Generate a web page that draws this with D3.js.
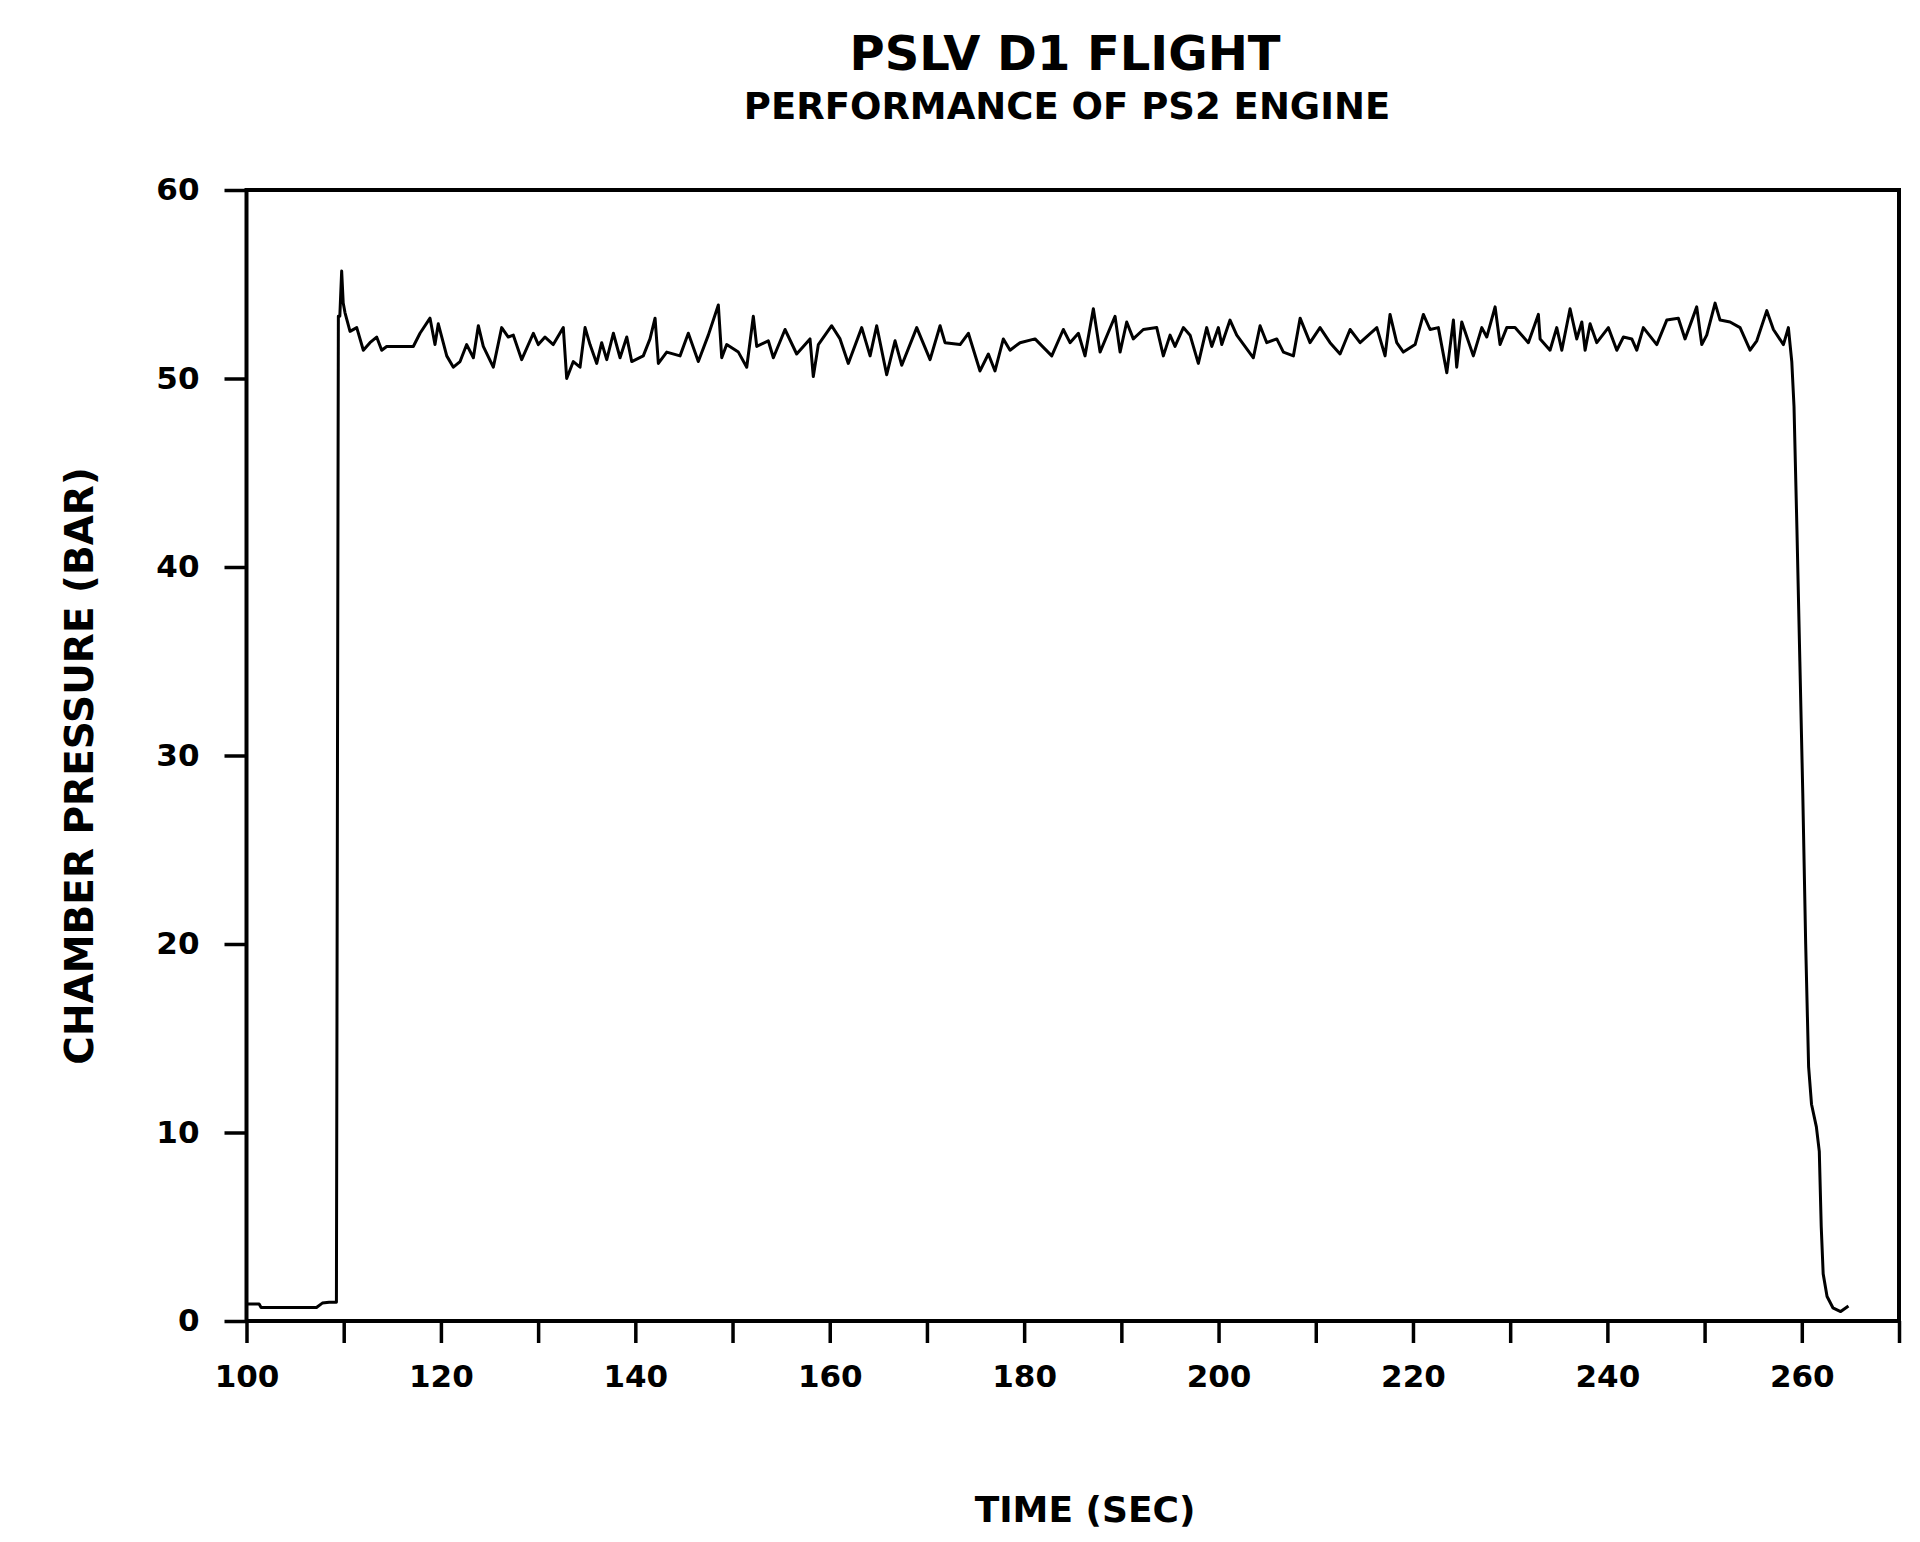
<!DOCTYPE html>
<html>
<head>
<meta charset="utf-8">
<title>PSLV D1 Flight - PS2 Engine</title>
<script src="https://cdn.jsdelivr.net/npm/d3@7"></script>
<style>
  body { margin: 0; background: #ffffff; }
  text { font-family: "DejaVu Sans", sans-serif; font-weight: bold; fill: #000; }
</style>
</head>
<body>
<div id="chart-area"></div>
<script>
// chart text
const TITLE = "PSLV D1 FLIGHT";
const SUBTITLE = "PERFORMANCE OF PS2 ENGINE";
const X_TITLE = "TIME (SEC)";
const Y_TITLE = "CHAMBER PRESSURE (BAR)";

// axes
const xDomain = [100, 270];
const yDomain = [0, 60];
const xTickValues = [100, 110, 120, 130, 140, 150, 160, 170, 180, 190, 200, 210, 220, 230, 240, 250, 260, 270];
const xLabelValues = [100, 120, 140, 160, 180, 200, 220, 240, 260];
const yTickValues = [0, 10, 20, 30, 40, 50, 60];

// trace (sec, bar)
const timeSec = [
  100.0, 101.3, 101.5, 107.2, 107.8, 108.5, 109.25, 109.45, 109.6, 109.79,
  109.95, 110.13, 110.65, 111.34, 112.02, 112.7, 113.39, 113.91, 114.42, 117.16,
  117.85, 118.88, 119.39, 119.73, 120.6, 121.28, 121.97, 122.65, 123.34, 123.85,
  124.36, 125.39, 126.25, 126.93, 127.45, 128.31, 129.51, 130.02, 130.71, 131.56,
  132.59, 132.94, 133.62, 134.31, 134.83, 135.34, 136.03, 136.54, 137.06, 137.74,
  138.43, 139.12, 139.63, 140.82, 141.51, 142.03, 142.37, 143.23, 144.6, 145.45,
  146.48, 147.51, 148.54, 148.89, 149.4, 150.6, 151.46, 152.14, 152.49, 153.68,
  154.2, 155.4, 156.6, 157.97, 158.31, 158.83, 160.2, 161.06, 161.91, 163.29,
  164.15, 164.83, 165.86, 166.72, 167.41, 168.95, 170.32, 171.35, 171.86, 173.41,
  174.26, 175.46, 176.32, 177.0, 177.86, 178.55, 179.58, 181.12, 182.84, 184.03,
  184.72, 185.58, 186.26, 187.12, 187.81, 189.35, 189.87, 190.55, 191.23, 192.26,
  193.64, 194.32, 195.01, 195.52, 196.38, 197.07, 197.92, 198.78, 199.3, 199.98,
  200.33, 201.18, 201.87, 203.58, 204.27, 204.96, 205.99, 206.67, 207.7, 208.39,
  209.41, 210.44, 211.47, 212.5, 213.53, 214.56, 216.28, 217.13, 217.64, 218.33,
  219.01, 220.22, 221.07, 221.76, 222.61, 223.48, 224.16, 224.5, 225.02, 226.21,
  227.08, 227.59, 228.45, 228.96, 229.65, 230.5, 231.87, 232.9, 233.08, 234.1,
  234.79, 235.31, 236.16, 236.85, 237.37, 237.71, 238.22, 238.91, 240.1, 240.97,
  241.65, 242.51, 243.02, 243.7, 245.08, 246.11, 247.3, 247.99, 249.19, 249.71,
  250.22, 251.08, 251.59, 252.62, 253.65, 254.68, 255.37, 256.4, 257.08, 258.11,
  258.62, 258.97, 259.2, 259.5, 259.8, 260.1, 260.4, 260.7, 261.0, 261.5,
  261.8, 262.0, 262.2, 262.6, 263.2, 264.0, 264.8
];
const chamberPressure = [
  0.9, 0.9, 0.72, 0.72, 0.95, 1.0, 1.0, 53.3, 53.3, 55.7,
  54.0, 53.5, 52.5, 52.7, 51.5, 51.9, 52.2, 51.5, 51.7, 51.7,
  52.4, 53.2, 51.8, 52.9, 51.2, 50.6, 50.9, 51.8, 51.1, 52.8,
  51.7, 50.6, 52.7, 52.2, 52.3, 51.0, 52.4, 51.8, 52.2, 51.8,
  52.7, 50.0, 50.9, 50.6, 52.7, 51.8, 50.8, 51.9, 51.0, 52.4,
  51.1, 52.2, 50.9, 51.2, 52.1, 53.2, 50.8, 51.4, 51.2, 52.4,
  50.9, 52.3, 53.9, 51.1, 51.8, 51.4, 50.6, 53.3, 51.7, 52.0,
  51.1, 52.6, 51.3, 52.1, 50.1, 51.8, 52.8, 52.1, 50.8, 52.7,
  51.2, 52.8, 50.2, 52.0, 50.7, 52.7, 51.0, 52.8, 51.9, 51.8,
  52.4, 50.4, 51.3, 50.4, 52.1, 51.5, 51.9, 52.1, 51.2, 52.6,
  51.9, 52.4, 51.2, 53.7, 51.4, 53.3, 51.4, 53.0, 52.1, 52.6,
  52.7, 51.2, 52.3, 51.7, 52.7, 52.3, 50.8, 52.7, 51.7, 52.7,
  51.8, 53.1, 52.3, 51.1, 52.8, 51.9, 52.1, 51.4, 51.2, 53.2,
  51.9, 52.7, 51.9, 51.3, 52.6, 51.9, 52.7, 51.2, 53.4, 51.9,
  51.4, 51.8, 53.4, 52.6, 52.7, 50.3, 53.1, 50.6, 53.0, 51.2,
  52.7, 52.2, 53.8, 51.8, 52.7, 52.7, 51.9, 53.4, 52.1, 51.5,
  52.7, 51.5, 53.7, 52.1, 53.0, 51.5, 52.9, 51.9, 52.7, 51.5,
  52.2, 52.1, 51.5, 52.7, 51.8, 53.1, 53.2, 52.1, 53.8, 51.8,
  52.3, 54.0, 53.1, 53.0, 52.7, 51.5, 52.0, 53.6, 52.6, 51.8,
  52.7, 50.9, 48.5, 42.0, 35.0, 28.0, 20.0, 13.5, 11.5, 10.3,
  9.0, 5.0, 2.5, 1.3, 0.7, 0.5, 0.8
];

const MARGIN = { LEFT: 246.5, RIGHT: 21, TOP: 190, BOTTOM: 221 };
const WIDTH = 1920 - MARGIN.LEFT - MARGIN.RIGHT;
const HEIGHT = 1542 - MARGIN.TOP - MARGIN.BOTTOM;
const FONTSIZE = { title: "48px", subtitle: "37px", "axis-title": "36px", "y-title": "39px", "x-tick": "31px", "y-tick": "31px" };

class PressureChart {
  constructor(_chartLocation) {
    this.chartLocation = _chartLocation;
    this.initVis();
  }

  initVis() {
    const vis = this;

    vis.svg = d3
      .select(vis.chartLocation)
      .append("svg")
      .attr("width", 1920)
      .attr("height", 1542)
      .style("display", "block")
      .style("background", "#fff");

    // titles
    vis.svg.append("text")
      .attr("x", 1065).attr("y", 70)
      .attr("text-anchor", "middle")
      .style("font-size", FONTSIZE.title)
      .text(TITLE);

    vis.svg.append("text")
      .attr("x", 1067).attr("y", 119)
      .attr("text-anchor", "middle")
      .style("font-size", FONTSIZE.subtitle)
      .text(SUBTITLE);

    vis.g = vis.svg.append("g")
      .attr("transform", `translate(${MARGIN.LEFT}, ${MARGIN.TOP})`);

    vis.x = d3.scaleLinear().domain(xDomain).range([0, WIDTH]);
    vis.y = d3.scaleLinear().domain(yDomain).range([HEIGHT, 0]);

    // X label
    vis.g.append("text")
      .attr("x", 1085 - MARGIN.LEFT)
      .attr("y", 1522 - MARGIN.TOP)
      .attr("text-anchor", "middle")
      .style("font-size", FONTSIZE["axis-title"])
      .text(X_TITLE);

    // Y label
    vis.g.append("text")
      .attr("transform", `translate(${79 - MARGIN.LEFT}, ${766 - MARGIN.TOP}) rotate(-90)`)
      .attr("dy", "0.36em")
      .attr("text-anchor", "middle")
      .style("font-size", FONTSIZE["y-title"])
      .text(Y_TITLE);

    vis.line = d3.line()
      .curve(d3.curveLinear)
      .x((d) => vis.x(d.time))
      .y((d) => vis.y(d.pressure));

    vis.wrangleData();
  }

  wrangleData() {
    const vis = this;
    vis.data = timeSec.map((t, i) => ({ time: t, pressure: chamberPressure[i] }));
    vis.updateVis();
  }

  updateVis() {
    const vis = this;

    const xAxisCall = d3.axisBottom(vis.x)
      .tickValues(xTickValues)
      .tickSize(22)
      .tickPadding(22)
      .tickFormat((d) => (xLabelValues.includes(d) ? d : ""));

    const yAxisCall = d3.axisLeft(vis.y)
      .tickValues(yTickValues)
      .tickSize(22)
      .tickPadding(25);

    vis.xAxis = vis.g.append("g")
      .attr("class", "x axis")
      .attr("transform", `translate(0, ${HEIGHT})`)
      .call(xAxisCall);
    vis.xAxis.select(".domain").remove();
    vis.xAxis.selectAll("line").attr("stroke", "#000").attr("stroke-width", 3.5);
    vis.xAxis.selectAll("text")
      .attr("fill", "#000")
      .style("font-family", "'DejaVu Sans', sans-serif")
      .style("font-weight", "bold")
      .style("font-size", FONTSIZE["x-tick"]);

    vis.yAxis = vis.g.append("g")
      .attr("class", "y axis")
      .call(yAxisCall);
    vis.yAxis.select(".domain").remove();
    vis.yAxis.selectAll("line").attr("stroke", "#000").attr("stroke-width", 3.5);
    vis.yAxis.selectAll("text")
      .attr("fill", "#000")
      .style("font-family", "'DejaVu Sans', sans-serif")
      .style("font-weight", "bold")
      .style("font-size", FONTSIZE["y-tick"]);

    // plot frame
    vis.g.append("rect")
      .attr("x", vis.x(xDomain[0]))
      .attr("y", vis.y(yDomain[1]))
      .attr("width", vis.x(xDomain[1]) - vis.x(xDomain[0]))
      .attr("height", vis.y(yDomain[0]) - vis.y(yDomain[1]))
      .attr("fill", "none")
      .attr("stroke", "#000")
      .attr("stroke-width", 4);

    // pressure trace
    vis.g.append("path")
      .datum(vis.data)
      .attr("class", "trace")
      .attr("d", vis.line)
      .attr("fill", "none")
      .attr("stroke", "#000")
      .attr("stroke-width", 3)
      .attr("stroke-linejoin", "round");
  }
}

new PressureChart("#chart-area");
</script>
</body>
</html>
